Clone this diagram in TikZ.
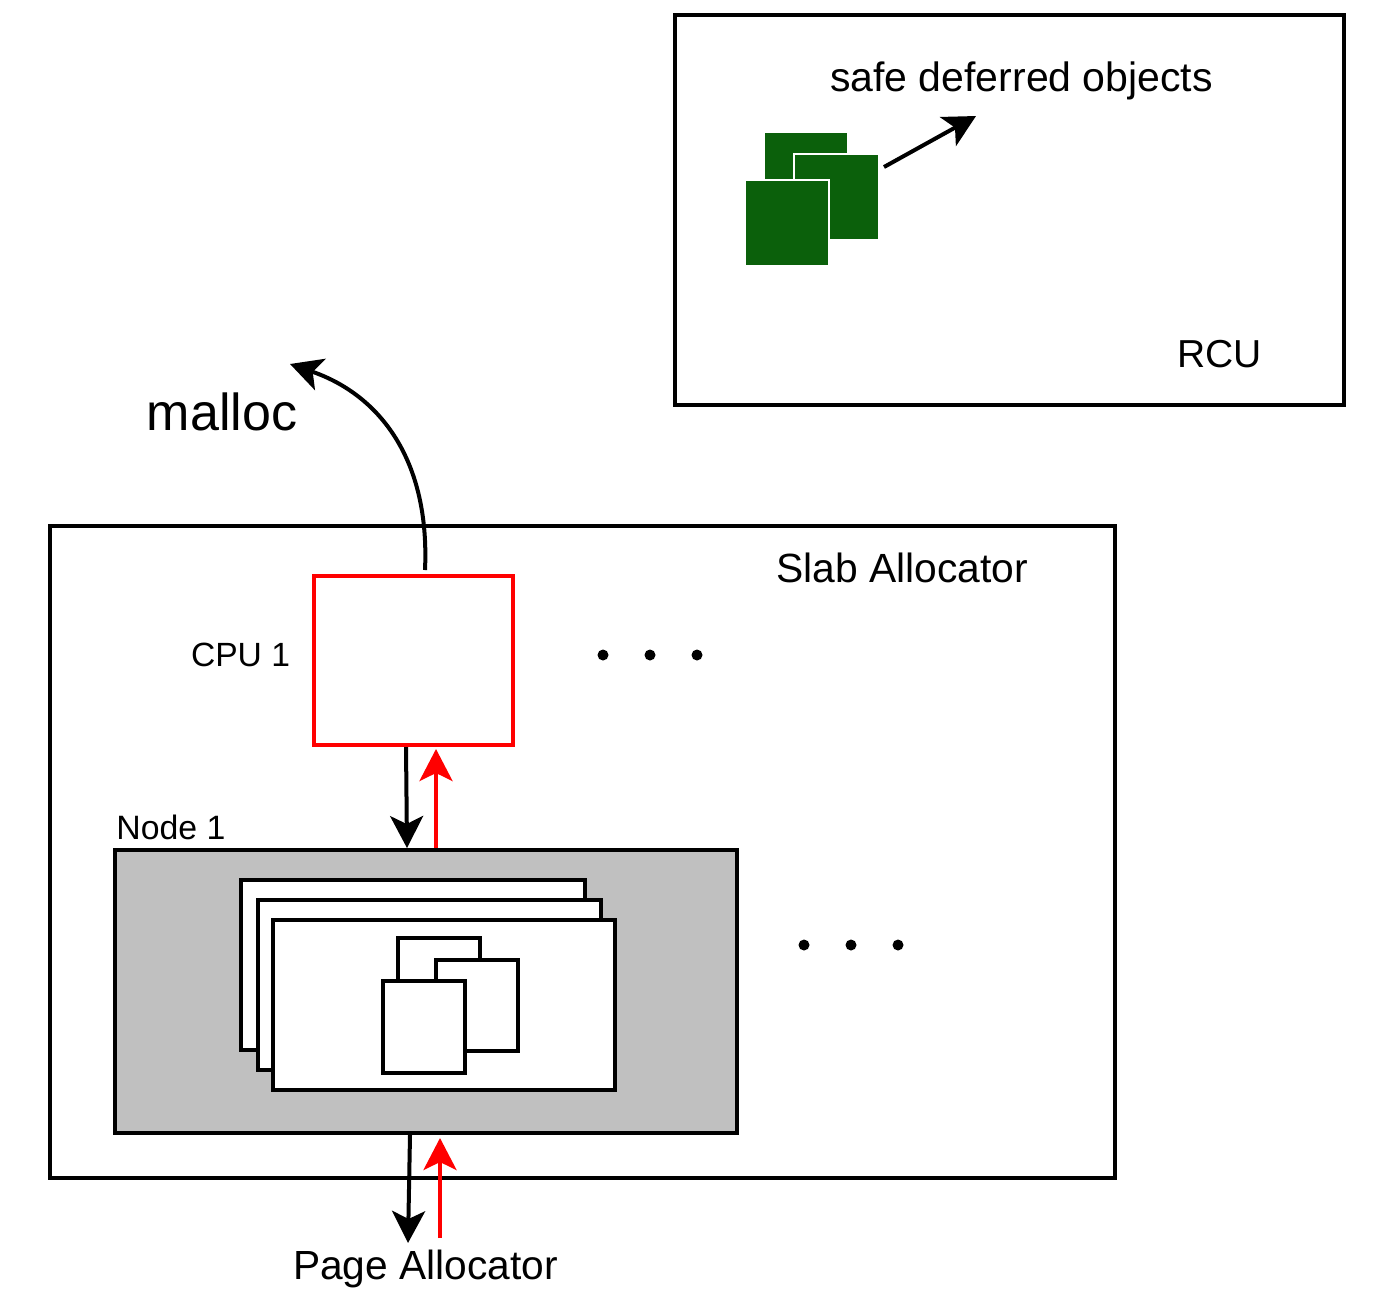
\documentclass[tikz,border=0pt]{standalone}
\usepackage{fontspec}
\setmainfont{Liberation Sans}
\usetikzlibrary{arrows.meta,fit,calc}
\definecolor{objgreen}{RGB}{11,96,11}
\definecolor{nodegray}{RGB}{192,192,192}
\definecolor{cpured}{RGB}{255,0,0}
\begin{document}
\begin{tikzpicture}[x=0.5pt,y=-0.5pt,
  frame/.style={draw, line width=2pt, inner sep=0pt},
  gsq/.style={fill=objgreen, draw=white, line width=1pt, inner sep=0pt},
  page/.style={fill=white, draw, line width=2pt, inner sep=0pt},
  obj/.style={fill=white, draw, line width=1.6pt, inner sep=0pt},
  lbl/.style={inner sep=0pt, anchor=base, font=\fontsize{#1}{#1}\selectfont},
  dotn/.style={circle, fill, inner sep=0pt, minimum size=5.5pt},
  arr/.style={line width=2pt, -{Stealth[length=16pt,width=16.5pt,inset=4pt]}}
]
\useasboundingbox (0,0) rectangle (1379,1302);

% RCU box
\node[frame, fit={(675,15) (1344,405)}] (rcu) {};
\node[gsq, fit={(764,132) (848,215)}] (g1) {};
\node[gsq, fit={(794,154) (879,240)}] (g2) {};
\node[gsq, fit={(745,180) (829,266)}] (g3) {};
\node[lbl=20.5pt] (sdo) at (1021.5,91) {safe deferred objects};
\node[lbl=19.5pt] (rcuL) at (1219.5,367) {RCU};
\coordinate (sdoTip) at (976,116);
\draw[arr] ($(g2.east)+(4,-30)$) -- (sdoTip);

% Slab allocator
\node[frame, fit={(50,526) (1115,1178)}] (slab) {};
\node[lbl=20.4pt] (slabL) at (902,582) {Slab Allocator};
\node[frame, draw=cpured, fit={(314,576) (513,745)}] (cpu) {};
\node[lbl=16.8pt] (cpuL) at (240.5,666) {CPU 1};
\node[dotn] (d1) at (603,655) {};
\node[dotn] (d2) at (650,655) {};
\node[dotn] (d3) at (697,655) {};

\node[frame, fill=nodegray, fit={(115,850) (737,1133)}] (node1) {};
\node[lbl=16.9pt, anchor=base west] (nodeL) at (116,839) {Node 1};
\node[page, fit={(241,880) (585,1050)}] (p1) {};
\node[page, fit={(258,900) (601,1070)}] (p2) {};
\node[page, fit={(273,920) (615,1090)}] (p3) {};
\node[obj, fit={(398,938) (480,1000)}] (o1) {};
\node[obj, fit={(436,960) (518,1051)}] (o2) {};
\node[obj, fit={(383,981) (465,1073)}] (o3) {};
\node[dotn] (d4) at (804,945) {};
\node[dotn] (d5) at (851,945) {};
\node[dotn] (d6) at (898,945) {};

% CPU <-> Node arrows
\draw[arr] ($(cpu.south)+(-7.5,0)$) -- ($(node1.north)+(-19,0)$);
\draw[arr, color=cpured] ($(node1.north)+(10,0)$) -- ($(cpu.south)+(22.5,2)$);

% Page allocator
\node[lbl=20.35pt] (pageL) at (425.5,1279) {Page Allocator};
\coordinate (pgDown) at (408,1243);
\coordinate (pgUp) at (440,1238);
\draw[arr] ($(node1.south)+(-16,0)$) -- (pgDown);
\draw[arr, color=cpured] (pgUp) -- ($(node1.south)+(14,3)$);

% malloc
\node[lbl=26pt] (mallocL) at (222,430) {malloc};
\coordinate (mallocTip) at (290,364);
\draw[arr] ($(cpu.north)+(11.5,-4)$) .. controls (430,460) and (380,395) .. (mallocTip);
\end{tikzpicture}
\end{document}
